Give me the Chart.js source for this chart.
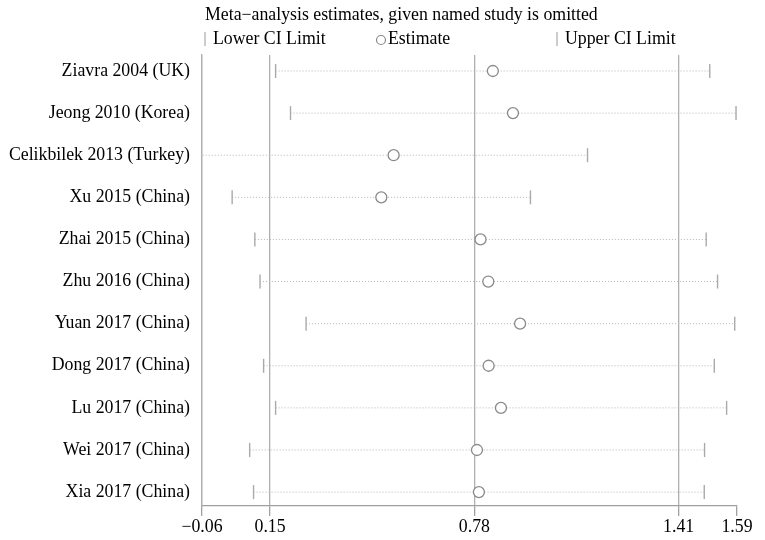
<!DOCTYPE html>
<html>
<head>
<meta charset="utf-8">
<script src="https://cdn.jsdelivr.net/npm/chart.js@4/dist/chart.umd.min.js"></script>
<style>
  html, body { margin: 0; padding: 0; background: #fff; }
  #wrap { width: 765px; height: 540px; }
</style>
</head>
<body>
<div id="wrap"><canvas id="chart" width="765" height="540"></canvas></div>
<script>
// Données (estimations quand l'étude nommée est omise)
const studies = [
    'Ziavra 2004 (UK)',
    'Jeong 2010 (Korea)',
    'Celikbilek 2013 (Turkey)',
    'Xu 2015 (China)',
    'Zhai 2015 (China)',
    'Zhu 2016 (China)',
    'Yuan 2017 (China)',
    'Dong 2017 (China)',
    'Lu 2017 (China)',
    'Wei 2017 (China)',
    'Xia 2017 (China)'
];
const lowerCI  = [0.167, 0.213, -0.067, 0.033, 0.103, 0.119, 0.261, 0.130, 0.167, 0.087, 0.099];
const estimate = [0.837, 0.899, 0.531, 0.493, 0.799, 0.823, 0.921, 0.824, 0.862, 0.788, 0.794];
const upperCI  = [1.506, 1.587, 1.129, 0.953, 1.495, 1.530, 1.583, 1.520, 1.558, 1.490, 1.489];
const xTicks = [-0.06, 0.15, 0.78, 1.41, 1.59];

const titleText = 'Meta\u2212analysis estimates, given named study is omitted';
const FONT = "'Liberation Serif', 'Times New Roman', serif";
const FONT_SIZE = 17.8;

const fmt = v => v.toFixed(2).replace('-', '\u2212');

// Titre + légende dessinés à la main, comme dans l'original
const headerPlugin = {
    id: 'header',
    afterDraw(chart) {
        const ctx = chart.ctx;
        const left = chart.chartArea.left;
        ctx.save();
        ctx.font = FONT_SIZE + 'px ' + FONT;
        ctx.fillStyle = '#000';
        ctx.textBaseline = 'middle';
        ctx.fillText(titleText, left + 3, 15);

        const ly = 39;
        ctx.strokeStyle = '#aaa';
        ctx.lineWidth = 1.2;
        [left + 3, left + 355].forEach(x => {
            ctx.beginPath();
            ctx.moveTo(x, ly - 7);
            ctx.lineTo(x, ly + 7);
            ctx.stroke();
        });
        ctx.strokeStyle = '#888';
        ctx.beginPath();
        ctx.arc(left + 179, ly + 1, 4.5, 0, Math.PI * 2);
        ctx.stroke();

        ctx.fillText('Lower CI Limit', left + 11, ly);
        ctx.fillText('Estimate', left + 186, ly);
        ctx.fillText('Upper CI Limit', left + 363, ly);
        ctx.restore();
    }
};

const rows = studies.map((s, i) => i + 1);

const ciLines = studies.map((s, i) => ({
    type: 'scatter',
    showLine: true,
    data: [{ x: lowerCI[i], y: i + 1 }, { x: upperCI[i], y: i + 1 }],
    borderColor: '#b5b5b5',
    borderWidth: 1,
    borderDash: [1, 2],
    pointRadius: 0,
    clip: 0,
    order: 3
}));

const tickStyle = {
    type: 'scatter',
    pointStyle: 'line',
    rotation: 90,
    pointRadius: 7,
    borderColor: '#aaa',
    pointBorderColor: '#aaa',
    pointBorderWidth: 1.4,
    clip: 0,
    order: 2
};

new Chart(document.getElementById('chart'), {
    type: 'scatter',
    data: {
        datasets: [
            ...ciLines,
            { ...tickStyle, data: lowerCI.map((v, i) => ({ x: v, y: rows[i] })) },
            { ...tickStyle, data: upperCI.map((v, i) => ({ x: v, y: rows[i] })) },
            {
                type: 'scatter',
                data: estimate.map((v, i) => ({ x: v, y: rows[i] })),
                pointStyle: 'circle',
                pointRadius: 5.5,
                pointBackgroundColor: '#fff',
                pointBorderColor: '#8a8a8a',
                pointBorderWidth: 1.3,
                clip: 0,
                order: 1
            }
        ]
    },
    options: {
        responsive: false,
        animation: false,
        devicePixelRatio: 1,
        layout: { padding: { top: 55, right: 28, left: 0, bottom: 0 } },
        plugins: {
            legend: { display: false },
            tooltip: { enabled: false },
            title: { display: false }
        },
        scales: {
            x: {
                type: 'linear',
                min: -0.06,
                max: 1.59,
                afterBuildTicks: scale => { scale.ticks = xTicks.map(v => ({ value: v })); },
                afterFit: scale => { scale.height = 34; },
                grid: {
                    color: ctx => (ctx.tick && ctx.tick.value === 1.59) ? 'rgba(0,0,0,0)' : '#b0b0b0',
                    lineWidth: 1.3,
                    tickColor: '#a0a0a0',
                    tickLength: 10,
                    drawTicks: true
                },
                border: { display: true, color: '#a0a0a0', width: 1.3 },
                ticks: {
                    color: '#000',
                    padding: 1,
                    maxRotation: 0,
                    autoSkip: false,
                    font: { family: FONT, size: FONT_SIZE },
                    callback: v => fmt(v)
                }
            },
            y: {
                type: 'linear',
                reverse: true,
                min: 0.62,
                max: 11.33,
                afterBuildTicks: scale => { scale.ticks = rows.map(v => ({ value: v })); },
                afterFit: scale => { scale.width = 202; },
                grid: { display: false, drawTicks: false },
                border: { display: true, color: '#b0b0b0', width: 1.3 },
                ticks: {
                    color: '#000',
                    padding: 12,
                    autoSkip: false,
                    font: { family: FONT, size: FONT_SIZE },
                    callback: v => studies[v - 1]
                }
            }
        }
    },
    plugins: [headerPlugin]
});
</script>
</body>
</html>
